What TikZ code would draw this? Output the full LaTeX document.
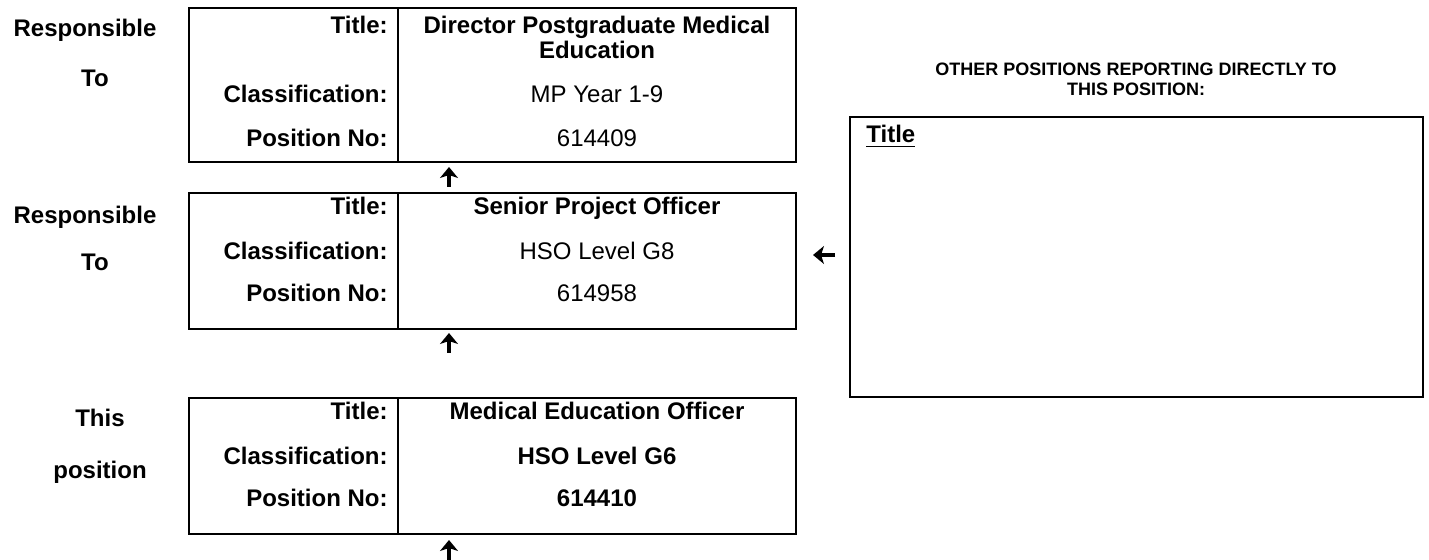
\documentclass[12pt,tikz,border=0pt]{standalone}
\usepackage{fontspec}
\setmainfont{Liberation Sans}
\usetikzlibrary{arrows.meta,positioning}

\begin{document}
\begin{tikzpicture}[
  x=0.5pt, y=-0.5pt,
  posbox/.style={rectangle, draw, line width=1pt, outer sep=0pt,
                 minimum width=303.5pt, minimum height=68pt},
  divider/.style={line width=0.7pt},
  txt/.style={inner sep=0pt, text height=8.6pt, text depth=0pt},
  key/.style={txt, font=\bfseries, anchor=east},
  val/.style={txt},
  side/.style={txt, font=\bfseries},
  uparr/.style={-{Stealth[width=9pt, length=5.5pt, inset=1.5pt]}, line width=2.4pt}
]
\useasboundingbox (0,0) rectangle (1429,560);

%% Box 1: responsible to
\node[posbox, minimum height=77pt] (dir) at (492.5,85) {};
\draw[divider] (dir.north west -| 398,0) -- (dir.south west -| 398,0);
\node[key] (dir-tk) at (388,25) {Title:};
\node[val, font=\bfseries] (dir-tv) at (597,25) {Director Postgraduate Medical};
\node[val, font=\bfseries] (dir-tv2) at (597,50) {Education};
\node[key] (dir-ck) at (388,94) {Classification:};
\node[val] (dir-cv) at (597,94) {MP Year 1-9};
\node[key] (dir-pk) at (388,138) {Position No:};
\node[val] (dir-pv) at (597,138) {614409};

\node[side] (dir-s1) at (85,28) {Responsible};
\node[side] (dir-s2) at (95,78) {To};

%% Box 2: responsible to
\node[posbox] (sen) at (492.5,261) {};
\draw[divider] (sen.north west -| 398,0) -- (sen.south west -| 398,0);
\node[key] (sen-tk) at (388,206) {Title:};
\node[val, font=\bfseries] (sen-tv) at (597,206) {Senior Project Officer};
\node[key] (sen-ck) at (388,251) {Classification:};
\node[val] (sen-cv) at (597,251) {HSO Level G8};
\node[key] (sen-pk) at (388,293) {Position No:};
\node[val] (sen-pv) at (597,293) {614958};

\node[side] (sen-s1) at (85,215) {Responsible};
\node[side] (sen-s2) at (95,262) {To};

%% Box 3: this position
\node[posbox] (pos) at (492.5,466) {};
\draw[divider] (pos.north west -| 398,0) -- (pos.south west -| 398,0);
\node[key] (pos-tk) at (388,411) {Title:};
\node[val, font=\bfseries] (pos-tv) at (597,411) {Medical Education Officer};
\node[key] (pos-ck) at (388,456) {Classification:};
\node[val, font=\bfseries] (pos-cv) at (597,456) {HSO Level G6};
\node[key] (pos-pk) at (388,498) {Position No:};
\node[val, font=\bfseries] (pos-pv) at (597,498) {614410};

\node[side] (pos-s1) at (100,418) {This};
\node[side] (pos-s2) at (100,470) {position};

%% Other positions
\node[align=center, font=\bfseries\fontsize{9}{10}\selectfont] (oth-head)
  at (1136,79) {OTHER POSITIONS REPORTING DIRECTLY TO\\THIS POSITION:};
\node[rectangle, draw, line width=1pt, outer sep=0pt,
      minimum width=286.5pt, minimum height=140pt] (oth) at (1136.5,257) {};
\node[inner sep=0pt, font=\bfseries, anchor=base west] (oth-t) at (866,143) {\underline{Title}};

%% Arrows
\coordinate (foot) at (449,560);
\draw[uparr, shorten <=3pt, shorten >=2.5pt] (sen.north -| 449,0) -- (dir.south -| 449,0);
\draw[uparr, shorten <=22.5pt, shorten >=2pt] (pos.north -| 449,0) -- (sen.south -| 449,0);
\draw[uparr, shorten >=3pt] (foot) -- (pos.south -| 449,0);
\draw[uparr, shorten <=7.5pt, shorten >=8.5pt] (oth.west |- 0,255) -- (sen.east |- 0,255);

\end{tikzpicture}
\end{document}
